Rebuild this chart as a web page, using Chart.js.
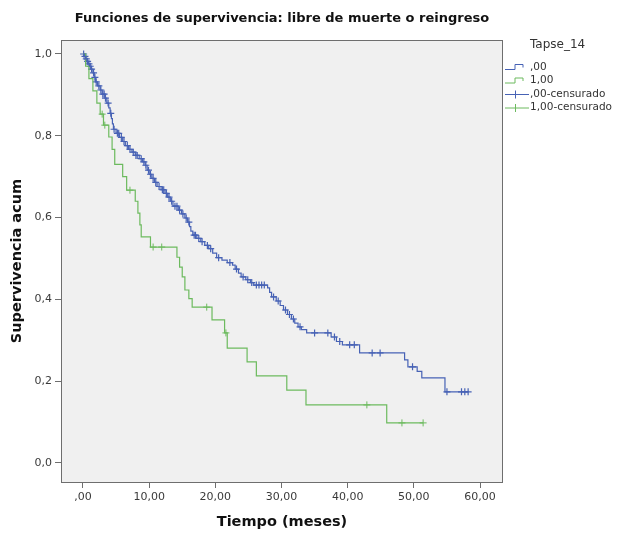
<!DOCTYPE html>
<html>
<head>
<meta charset="utf-8">
<script src="https://cdn.jsdelivr.net/npm/chart.js@4.4.0/dist/chart.umd.min.js"></script>
<style>
  html, body { margin: 0; padding: 0; background: #fff; }
  canvas { display: block; }
</style>
</head>
<body>
<canvas id="kmChart" width="620" height="535"></canvas>
<script>
// Tapse_14 groups
const legendTitle = 'Tapse_14';
const groupLabels = [',00', '1,00'];
const censorLabels = [',00-censurado', '1,00-censurado'];

// group ,00 : event times (meses) and survival after each event
const blueTimes = [0.2, 0.4, 0.6, 0.8, 1.0, 1.2, 1.5, 1.7, 1.9, 2.2, 2.6, 2.9, 3.3, 3.6, 3.9, 4.1, 4.3, 4.45, 4.6, 5.0,
  5.5, 6.0, 6.4, 6.9, 7.4, 7.9, 8.5, 9.0, 9.4, 9.7, 10.0, 10.4, 10.8, 11.2, 11.8, 12.4, 12.8, 13.2, 13.6, 14.4,
  14.9, 15.4, 15.8, 16.1, 16.3, 16.6, 17.2, 17.8, 18.4, 19.0, 19.6, 20.2, 21.0, 21.8, 22.6, 23.0, 23.5, 23.9, 24.6, 25.3,
  25.8, 27.9, 28.2, 28.5, 29.2, 29.8, 30.3, 30.9, 31.5, 32.0, 32.5, 33.0, 33.8, 37.5, 38.3, 39.2, 41.8, 48.6, 49.1, 50.5,
  51.2, 54.7];
const blueSurv = [0.994, 0.988, 0.982, 0.976, 0.970, 0.963, 0.954, 0.943, 0.932, 0.922, 0.912, 0.902, 0.892, 0.880, 0.868, 0.855, 0.842, 0.829, 0.816, 0.806,
  0.796, 0.786, 0.776, 0.767, 0.760, 0.752, 0.744, 0.736, 0.728, 0.716, 0.706, 0.696, 0.686, 0.676, 0.668, 0.659, 0.650, 0.640, 0.628, 0.618,
  0.609, 0.599, 0.589, 0.578, 0.567, 0.557, 0.549, 0.541, 0.532, 0.524, 0.513, 0.502, 0.496, 0.490, 0.484, 0.474, 0.464, 0.455, 0.448, 0.441,
  0.435, 0.428, 0.417, 0.406, 0.396, 0.385, 0.374, 0.363, 0.352, 0.342, 0.333, 0.326, 0.318, 0.308, 0.297, 0.289, 0.269, 0.252, 0.235, 0.224,
  0.208, 0.174];
const blueCensored = [0.1, 0.3, 0.5, 0.7, 0.9, 1.1, 1.3, 1.6, 1.8, 2.0, 2.4, 2.7, 3.0, 3.2, 3.4, 3.8, 4.2, 4.7, 5.2, 5.4,
  5.8, 6.2, 6.7, 7.1, 7.6, 8.0, 8.2, 8.8, 9.2, 9.5, 9.9, 10.2, 10.6, 11.0, 11.5, 12.0, 12.2, 12.6, 13.0, 13.4,
  13.9, 14.2, 14.6, 15.1, 15.6, 16.0, 16.8, 17.0, 17.5, 18.0, 18.8, 19.3, 20.5, 22.2, 23.2, 24.2, 24.9, 25.5, 26.2, 26.6,
  27.0, 27.4, 28.8, 29.5, 30.6, 31.2, 31.8, 32.8, 35.0, 37.0, 38.0, 38.8, 40.3, 41.0, 43.7, 44.9, 49.8, 55.0, 57.2, 57.7,
  58.2];

// group 1,00
const greenTimes = [0.4, 0.9, 1.5, 2.1, 2.6, 3.1, 3.9, 4.4, 4.8, 6.0, 6.6, 7.9, 8.3, 8.6, 8.8, 10.2, 14.2, 14.6, 15.0, 15.4,
  16.0, 16.5, 19.5, 21.4, 21.8, 24.8, 26.2, 30.8, 33.7, 45.9];
const greenSurv = [0.970, 0.940, 0.910, 0.880, 0.853, 0.826, 0.797, 0.767, 0.730, 0.700, 0.667, 0.640, 0.611, 0.582, 0.553, 0.528, 0.503, 0.479, 0.455, 0.423,
  0.402, 0.381, 0.350, 0.318, 0.281, 0.247, 0.213, 0.178, 0.142, 0.098];
const greenCensored = [2.9, 3.3, 7.1, 10.6, 11.9, 18.7, 21.6, 42.9, 48.2, 51.4];

const xTicks = [0, 10, 20, 30, 40, 50, 60];
const xTickLabels = [',00', '10,00', '20,00', '30,00', '40,00', '50,00', '60,00'];
const yTicks = [0, 0.2, 0.4, 0.6, 0.8, 1.0];
const yTickLabels = ['0,0', '0,2', '0,4', '0,6', '0,8', '1,0'];

const BLUE = '#4762b5';
const GREEN = '#6cba5e';
const FONT = '"DejaVu Sans", sans-serif';

// KM curve: start at 1, step at each event, run on to last follow-up
function stepPoints(times, surv, censored) {
  const pts = [{x: 0, y: 1}];
  times.forEach((t, i) => pts.push({x: t, y: surv[i]}));
  const lastT = Math.max(times[times.length - 1], ...censored);
  pts.push({x: lastT, y: surv[surv.length - 1]});
  return pts;
}
function survAt(times, surv, t) {
  let s = 1;
  for (let i = 0; i < times.length; i++) if (times[i] <= t) s = surv[i];
  return s;
}
function censorPoints(times, surv, censored) {
  return censored.map(t => ({x: t, y: survAt(times, surv, t)}));
}

// grey plot background + frame
const framePlugin = {
  id: 'frame',
  beforeDatasetsDraw(chart) {
    const {ctx, chartArea: a} = chart;
    ctx.save();
    ctx.fillStyle = '#f0f0f0';
    ctx.fillRect(a.left, a.top, a.right - a.left, a.bottom - a.top);
    ctx.strokeStyle = '#6e6e6e';
    ctx.lineWidth = 1;
    ctx.strokeRect(a.left + 0.5, a.top + 0.5, a.right - a.left - 1, a.bottom - a.top);
    ctx.restore();
  }
};

// title over plot area and SPSS-style legend
const textPlugin = {
  id: 'texts',
  afterDraw(chart) {
    const {ctx, chartArea: a} = chart;
    ctx.save();
    ctx.fillStyle = '#111';
    ctx.font = 'bold 13px ' + FONT;
    ctx.textAlign = 'center';
    ctx.textBaseline = 'middle';
    ctx.fillText('Funciones de supervivencia: libre de muerte o reingreso', (a.left + a.right) / 2, 19);

    const x0 = 505, tx = 530;
    ctx.textAlign = 'left';
    ctx.fillStyle = '#333';
    ctx.font = '12px ' + FONT;
    ctx.fillText(legendTitle, tx, 45);
    ctx.font = '10.5px ' + FONT;
    const rows = [67, 80.5, 94, 107.5];
    const cols = [BLUE, GREEN];
    ctx.lineWidth = 1;
    [0, 1].forEach(i => {
      const y = rows[i];
      ctx.strokeStyle = cols[i];
      ctx.beginPath();
      ctx.moveTo(x0, y + 2.5);
      ctx.lineTo(x0 + 10, y + 2.5);
      ctx.lineTo(x0 + 10, y - 2.5);
      ctx.lineTo(x0 + 18, y - 2.5);
      ctx.lineTo(x0 + 18, y + 0.5);
      ctx.stroke();
      ctx.fillText(groupLabels[i], tx, y);
    });
    [0, 1].forEach(i => {
      const y = rows[i + 2];
      ctx.strokeStyle = cols[i];
      ctx.beginPath();
      ctx.moveTo(x0, y + 0.5);
      ctx.lineTo(x0 + 24, y + 0.5);
      ctx.moveTo(x0 + 10.5, y - 3.5);
      ctx.lineTo(x0 + 10.5, y + 4.5);
      ctx.stroke();
      ctx.fillText(censorLabels[i], tx, y);
    });
    ctx.restore();
  }
};

new Chart(document.getElementById('kmChart'), {
  type: 'scatter',
  data: {
    datasets: [
      {
        label: groupLabels[0],
        data: stepPoints(blueTimes, blueSurv, blueCensored),
        showLine: true, stepped: true, borderColor: BLUE, borderWidth: 1.2, pointRadius: 0
      },
      {
        label: groupLabels[1],
        data: stepPoints(greenTimes, greenSurv, greenCensored),
        showLine: true, stepped: true, borderColor: GREEN, borderWidth: 1.2, pointRadius: 0
      },
      {
        label: censorLabels[0],
        data: censorPoints(blueTimes, blueSurv, blueCensored),
        pointStyle: 'cross', pointRadius: 3.5, borderColor: BLUE, borderWidth: 1.2
      },
      {
        label: censorLabels[1],
        data: censorPoints(greenTimes, greenSurv, greenCensored),
        pointStyle: 'cross', pointRadius: 3.5, borderColor: GREEN, borderWidth: 1
      }
    ]
  },
  options: {
    responsive: false,
    animation: false,
    layout: { padding: { top: 40, right: 117, left: 0, bottom: 0 } },
    plugins: {
      legend: { display: false },
      title: { display: false },
      tooltip: { enabled: false }
    },
    scales: {
      x: {
        type: 'linear',
        min: -3.32, max: 63.47,
        afterBuildTicks: s => { s.ticks = xTicks.map(v => ({value: v})); },
        afterFit: s => { s.height = 53; },
        ticks: { callback: (v, i) => xTickLabels[i], color: '#3a3a3a', font: { family: FONT, size: 11 }, padding: 3, maxRotation: 0 },
        grid: { drawOnChartArea: false, drawTicks: true, tickLength: 6, tickColor: '#6e6e6e' },
        border: { display: false },
        title: { display: true, text: 'Tiempo (meses)', color: '#111', font: { family: FONT, size: 14.5, weight: 'bold' }, padding: { top: 0, bottom: 4 } }
      },
      y: {
        type: 'linear',
        min: -0.0465, max: 1.0342,
        afterBuildTicks: s => { s.ticks = yTicks.map(v => ({value: v})); },
        afterFit: s => { s.width = 61; },
        ticks: { callback: (v, i) => yTickLabels[i], color: '#3a3a3a', font: { family: FONT, size: 11 }, padding: 3 },
        grid: { drawOnChartArea: false, drawTicks: true, tickLength: 6, tickColor: '#6e6e6e' },
        border: { display: false },
        title: { display: true, text: 'Supervivencia acum', color: '#111', font: { family: FONT, size: 14.5, weight: 'bold' }, padding: { top: 9, bottom: 0 } }
      }
    }
  },
  plugins: [framePlugin, textPlugin]
});
</script>
</body>
</html>
